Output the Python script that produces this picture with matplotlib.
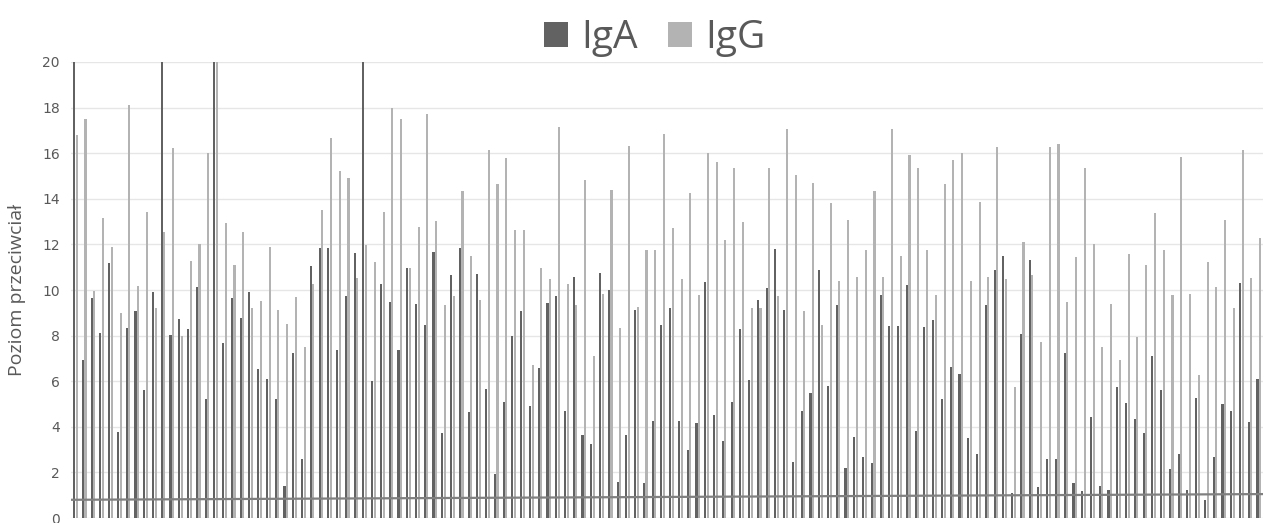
import numpy as np
import matplotlib
matplotlib.use('Agg')
import matplotlib.pyplot as plt

# wartosci (136 pacjentow), 25 = poza skala (ucieta na 20)
iga = [25, 6.93, 9.65, 8.12, 11.18, 3.76, 8.34, 9.07, 5.6, 9.91,
       25, 8.02, 8.72, 8.27, 10.13, 5.23, 25, 7.66, 9.65, 8.78,
       9.91, 6.54, 6.1, 5.22, 1.41, 7.24, 2.57, 11.06, 11.86, 11.83,
       7.38, 9.74, 11.63, 25, 6.0, 10.26, 9.48, 7.35, 10.96, 9.4,
       8.47, 11.66, 3.74, 10.64, 11.86, 4.65, 10.68, 5.67, 1.92, 5.09,
       7.99, 9.06, 4.93, 6.6, 9.45, 9.72, 4.71, 10.55, 3.63, 3.26,
       10.74, 10.0, 1.57, 3.65, 9.13, 1.53, 4.27, 8.47, 9.19, 4.27,
       2.98, 4.16, 10.35, 4.53, 3.37, 5.1, 8.27, 6.06, 9.58, 10.09,
       11.8, 9.11, 2.46, 4.69, 5.48, 10.86, 5.81, 9.36, 2.18, 3.55,
       2.69, 2.4, 9.8, 8.44, 8.4, 10.23, 3.81, 8.39, 8.68, 5.22,
       6.64, 6.32, 3.49, 2.82, 9.36, 10.86, 11.48, 1.09, 8.07, 11.31,
       1.34, 2.57, 2.57, 7.22, 1.53, 1.18, 4.45, 1.41, 1.24, 5.76,
       5.04, 4.33, 3.74, 7.12, 5.6, 2.14, 2.79, 1.24, 5.28, 0.78,
       2.67, 5.0, 4.69, 10.29, 4.22, 6.1]
igg = [16.8, 17.5, 9.96, 13.14, 11.89, 8.97, 18.1, 10.17, 13.43, 9.22,
       12.53, 16.22, 7.99, 11.26, 12.03, 15.99, 25, 12.94, 11.08, 12.53,
       9.22, 9.5, 11.89, 9.11, 8.52, 9.69, 7.51, 10.26, 13.53, 16.66,
       15.22, 14.93, 10.52, 11.98, 11.25, 13.43, 18.0, 17.51, 10.96, 12.76,
       17.72, 13.04, 9.36, 9.74, 14.32, 11.51, 9.55, 16.16, 14.67, 15.77,
       12.65, 12.65, 6.72, 10.97, 10.47, 17.17, 10.28, 9.33, 14.83, 7.12,
       9.83, 14.38, 8.34, 16.32, 9.24, 11.74, 11.74, 16.82, 12.7, 10.47,
       14.27, 9.77, 15.99, 15.61, 12.18, 15.33, 12.97, 9.22, 9.22, 15.33,
       9.72, 17.06, 15.03, 9.06, 14.71, 8.46, 13.81, 10.41, 13.08, 10.57,
       11.74, 14.35, 10.57, 17.06, 11.51, 15.94, 15.33, 11.74, 9.77, 14.65,
       15.7, 15.99, 10.41, 13.85, 10.57, 16.28, 10.47, 5.74, 12.09, 10.67,
       7.73, 16.26, 16.42, 9.48, 11.45, 15.33, 12.03, 7.49, 9.4, 6.93,
       11.57, 7.95, 11.08, 13.37, 11.74, 9.77, 15.83, 9.84, 6.28, 11.25,
       10.13, 13.08, 9.19, 16.16, 10.52, 12.3]
# linia odciecia (poczatek i koniec)
cutoff = [0.8, 1.05]

n = len(iga)
x = np.arange(n)

fig = plt.figure(figsize=(12.64, 5.23), dpi=100)
ax = fig.add_axes([0.0562, 0.0095, 0.9432, 0.872])

ax.bar(x - 0.15, iga, width=0.24, color='#626262', label='IgA', zorder=2)
ax.bar(x + 0.15, igg, width=0.24, color='#b3b3b3', label='IgG', zorder=2)
ax.plot([-0.5, n - 0.5], cutoff, color='#808080', linewidth=1.6, zorder=3)

ax.set_xlim(-0.5, n - 0.5)
ax.set_ylim(0, 20)
ax.set_yticks(range(0, 21, 2))
ax.set_xticks([])
ax.grid(axis='y', color='#e6e6e6', linewidth=1, zorder=0)
ax.tick_params(axis='y', length=0, labelsize=10, labelcolor='#595959', pad=8)
for s in ax.spines.values():
    s.set_visible(False)

ax.set_ylabel('Poziom przeciwciał', fontsize=14, color='#595959',
              family='Open Sans', labelpad=12)

fig.legend(loc='upper center', bbox_to_anchor=(0.518, 1.03), ncol=2,
           frameon=False, prop={'family': 'Open Sans', 'size': 28},
           handlelength=0.62, handleheight=0.62, handletextpad=0.35,
           columnspacing=0.75, labelcolor='#595959')

fig.savefig('out.png', dpi=100)
